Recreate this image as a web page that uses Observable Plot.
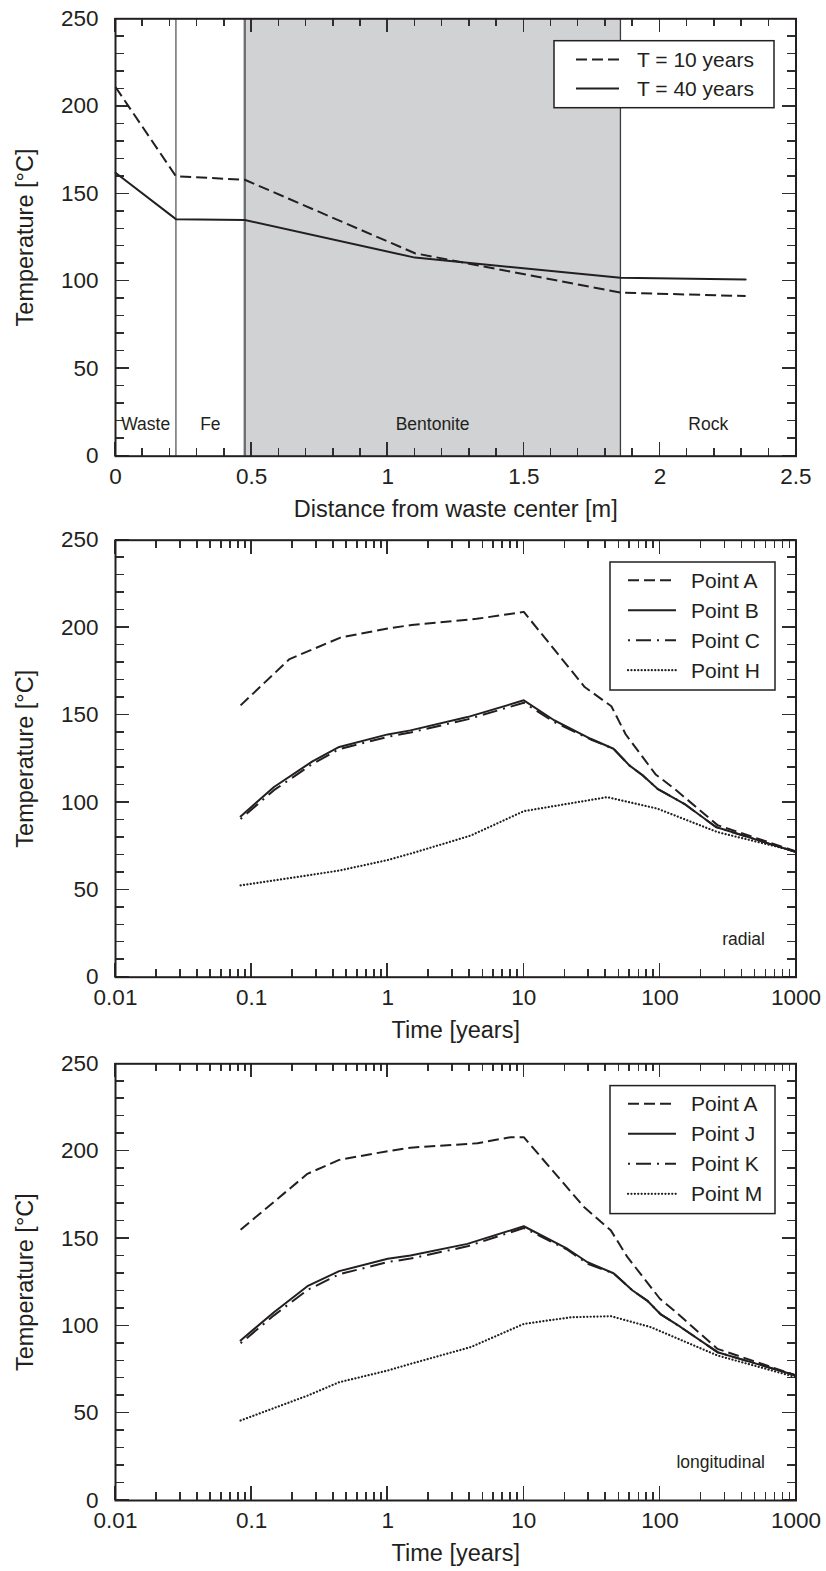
<!DOCTYPE html>
<html><head><meta charset="utf-8">
<script src="https://cdn.jsdelivr.net/npm/d3@7"></script>
<script src="https://cdn.jsdelivr.net/npm/@observablehq/plot@0.6"></script>
<style>
html,body{margin:0;padding:0;background:#fff;}
#chart svg{display:block;}
</style></head><body><div id="chart"></div>
<script>
const INK = "#231f20";
const FONT = "'Liberation Sans', Arial, Helvetica, sans-serif";

// ---------- Panel 1: temperature profile vs distance ----------
const distTicks = [0, 0.5, 1, 1.5, 2, 2.5];
const tempTicks = [0, 50, 100, 150, 200, 250];
const zoneNames = ["Waste", "Fe", "Bentonite", "Rock"];
const zoneEdges = [0, 0.222, 0.475, 1.855, 2.5];
const distance = [0, 0.222, 0.475, 1.1, 1.855, 2.315];
const temp10 = [211, 160, 158, 116, 93.5, 91.5];
const temp40 = [162, 135.5, 135, 113.5, 102, 101];
const profileLabels = ["T = 10 years", "T = 40 years"];

// ---------- Panel 2: radial points (time [years], temperature) ----------
const timeTicks = [0.01, 0.1, 1, 10, 100, 1000];
const radialA = [[0.083,155.5],[0.19,182],[0.29,188],[0.45,194.3],[1,199.5],[1.5,201.5],[4.5,205],[10,209],[28,166],[44,155],[56,139],[93,116],[127,108],[265,87],[1000,72]];
const radialB = [[0.083,92],[0.146,108.8],[0.28,123.5],[0.44,131.7],[1,138.9],[1.47,141.2],[3.85,148.8],[10,158.4],[16.7,147],[31,136.4],[45.6,130.7],[59.6,121.2],[74.6,115.5],[96,107.8],[151,99.2],[258,85.9],[1000,71.6]];
const radialC = [[0.083,90.5],[0.146,107],[0.28,122],[0.44,130.5],[1,137.5],[1.47,140],[3.85,147.5],[10,157],[16.7,146],[31,136],[45.6,130.7],[59.6,121.2],[74.6,115.5],[96,107.8],[151,99.2],[258,85.9],[1000,71.6]];
const radialH = [[0.083,52.5],[0.44,61],[1,67],[1.6,71.5],[4.07,81],[10,95],[41,103],[96,96.4],[265,83],[1000,72]];
const radialLabels = ["Point A", "Point B", "Point C", "Point H"];

// ---------- Panel 3: longitudinal points ----------
const longA = [[0.083,155],[0.257,187],[0.44,195],[1,200],[1.47,202],[4.57,204.5],[8,208],[10,208],[27.7,168],[43.7,154.5],[57.8,139.3],[100,115.5],[127,108.8],[265,86.8],[1000,71.6]];
const longJ = [[0.083,91.6],[0.146,107.8],[0.257,122.7],[0.44,131.3],[1,138.4],[1.47,140.2],[3.85,146.9],[10,157],[21,144],[29.4,136.4],[45.6,130.1],[63,120.2],[81.6,114.1],[101.6,106.5],[142.6,99.2],[265,84.9],[1000,71.6]];
const longK = [[0.083,90],[0.146,106],[0.257,120.5],[0.44,129.5],[1,136.5],[1.47,138.5],[3.85,145.5],[10,156],[21,143.5],[29.4,135.5],[45.6,130.1],[63,120.2],[81.6,114.1],[101.6,106.5],[142.6,99.2],[265,84.9],[1000,71.6]];
const longM = [[0.083,45.8],[0.257,60],[0.44,67.7],[1,74.4],[1.47,78.2],[4.07,87.8],[10,101.1],[22.2,104.9],[43.7,105.5],[86,99.2],[265,83],[1000,70.6]];
const longLabels = ["Point A", "Point J", "Point K", "Point M"];

// ---------- styles ----------
const STY = {
  solid:   {strokeWidth: 2},
  dashed:  {strokeWidth: 2, strokeDasharray: "11,5", strokeLinecap: "butt"},
  dashdot: {strokeWidth: 2, strokeDasharray: "2,6,15,6", strokeLinecap: "butt"},
  dotted:  {strokeWidth: 2.2, strokeDasharray: "0.1,3.3", strokeLinecap: "round"}
};

function seriesLine(pairs, sty) {
  return Plot.line(pairs, {x: d => d[0], y: d => d[1], stroke: INK, strokeLinejoin: "round", ...sty});
}

// inward ticks on all four sides, placed through the plot's own x/y scales
function inwardTicks(xMajor, xMinor, yMajor, yMinor) {
  return (index, scales, values, dims) => {
    const x = scales.x, y = scales.y;
    const L = dims.marginLeft, R = dims.width - dims.marginRight;
    const T = dims.marginTop, B = dims.height - dims.marginBottom;
    const segs = [];
    const xt = (list, len) => list.forEach(v => { const p = x(v); segs.push([p, B, p, B - len], [p, T, p, T + len]); });
    const yt = (list, len) => list.forEach(v => { const p = y(v); segs.push([L, p, L + len, p], [R, p, R - len, p]); });
    xt(xMinor, 8); xt(xMajor, 14); yt(yMinor, 9); yt(yMajor, 14);
    const g = d3.create("svg:g");
    g.selectAll("line").data(segs).join("line")
      .attr("x1", d => d[0]).attr("y1", d => d[1]).attr("x2", d => d[2]).attr("y2", d => d[3])
      .attr("stroke", "#2e2e30").attr("stroke-width", 1.5).attr("shape-rendering", "crispEdges");
    return g.node();
  };
}

function axisLabels(xMajor, yMajor) {
  const lab = {tickSize: 0, tickFormat: d => String(d), fontSize: 22.5, fill: INK, stroke: "none", label: null};
  return [
    Plot.axisX(xMajor, {anchor: "bottom", tickPadding: 12, ...lab}),
    Plot.axisY(yMajor, {anchor: "left", tickPadding: 17, ...lab})
  ];
}

function titles(xTitle, yTitle) {
  return [
    Plot.text([xTitle], {text: d => d, frameAnchor: "bottom", dy: 53, lineAnchor: "middle", fontSize: 23.5, fill: INK}),
    Plot.text([yTitle], {text: d => d, frameAnchor: "left", dx: -90, rotate: -90, lineAnchor: "middle", textAnchor: "middle", fontSize: 23.5, fill: INK})
  ];
}

// legend drawn inside the frame, positioned relative to the frame's top-right corner
function legendBox(labels, styles, L) {
  return (index, scales, values, dims) => {
    const right = dims.width - dims.marginRight, top = dims.marginTop;
    const g = d3.create("svg:g").attr("font-family", FONT).attr("text-anchor", "start");
    g.append("rect")
      .attr("x", right - L.left).attr("y", top + L.top)
      .attr("width", L.left - L.right).attr("height", L.bottom - L.top)
      .attr("fill", "white").attr("stroke", INK).attr("stroke-width", 1.5);
    labels.forEach((lab, i) => {
      const y = top + L.rows[i];
      const s = styles[i];
      g.append("line")
        .attr("x1", right - L.s1).attr("x2", right - L.s2).attr("y1", y).attr("y2", y)
        .attr("stroke", INK).attr("stroke-width", s.strokeWidth || 2)
        .attr("stroke-dasharray", s.strokeDasharray || null)
        .attr("stroke-linecap", s.strokeLinecap || "butt");
      g.append("text").attr("x", right - L.tx).attr("y", y).attr("dy", "0.35em")
        .attr("text-anchor", "start")
        .attr("font-size", 21).attr("fill", INK).text(lab);
    });
    return g.node();
  };
}

function range(a, b, step) { const out = []; for (let v = a; v <= b + 1e-9; v += step) out.push(+v.toFixed(6)); return out; }
const yMinor = range(0, 250, 10).filter(v => v % 50 !== 0);
const distMinor = range(0, 2.5, 0.1).filter(v => Math.abs(v * 2 - Math.round(v * 2)) > 1e-6);
const logMinor = [];
for (const d of timeTicks.slice(0, -1)) for (let k = 2; k <= 9; k++) logMinor.push(+(d * k).toPrecision(6));

const common = {
  width: 826,
  marginLeft: 115,
  marginRight: 30.5,
  style: {fontFamily: FONT, color: INK, background: "white"}
};

const root = document.getElementById("chart");

// Panel 1
const zones = zoneNames.map((n, i) => ({name: n, x1: zoneEdges[i], x2: zoneEdges[i + 1]}));
const p1 = Plot.plot({
  ...common,
  height: 522, marginTop: 18.3, marginBottom: 66.3,
  x: {domain: [0, 2.5]},
  y: {domain: [0, 250]},
  marks: [
    Plot.rect(zones.filter(z => z.name === "Bentonite"), {x1: "x1", x2: "x2", fill: "#d1d2d4"}),
    inwardTicks(distTicks, distMinor, tempTicks, yMinor),
    Plot.ruleX([zoneEdges[1]], {stroke: "#58595b", strokeWidth: 1.3}),
    Plot.ruleX([zoneEdges[2]], {stroke: "#6d6e71", strokeWidth: 2.4}),
    Plot.ruleX([zoneEdges[3]], {stroke: "#3a3a3a", strokeWidth: 1.3}),
    ...axisLabels(distTicks, tempTicks),
    seriesLine(distance.map((d, i) => [d, temp10[i]]), STY.dashed),
    seriesLine(distance.map((d, i) => [d, temp40[i]]), STY.solid),
    Plot.text(zones, {x: d => (d.x1 + d.x2) / 2, text: "name", frameAnchor: "bottom", dy: -26, fontSize: 17.5, fill: INK}),
    ...titles("Distance from waste center [m]", "Temperature [°C]"),
    legendBox(profileLabels, [STY.dashed, STY.solid], {left: 241.5, right: 21.5, top: 22.4, bottom: 89.4, rows: [41.2, 70.2], s1: 219.5, s2: 176.5, tx: 158.5}),
    Plot.frame({stroke: INK, strokeWidth: 2})
  ]
});
root.appendChild(p1);

function timePanel(series, labels, corner, h, mt, mb) {
  const styles = [STY.dashed, STY.solid, STY.dashdot, STY.dotted];
  return Plot.plot({
    ...common,
    height: h, marginTop: mt, marginBottom: mb,
    x: {type: "log", domain: [0.01, 1000]},
    y: {domain: [0, 250]},
    marks: [
      inwardTicks(timeTicks, logMinor, tempTicks, yMinor),
      ...axisLabels(timeTicks, tempTicks),
      ...series.map((s, i) => seriesLine(s, styles[i])).reverse(),
      Plot.text([corner], {text: d => d, frameAnchor: "bottom-right", dx: -31, dy: -38, textAnchor: "end", lineAnchor: "middle", fontSize: 17.5, fill: INK}),
      ...titles("Time [years]", "Temperature [°C]"),
      legendBox(labels, styles, {left: 185.5, right: 20.5, top: 22.3, bottom: 150.3, rows: [40.5, 70.5, 100.5, 130.5], s1: 167.5, s2: 119.5, tx: 104.5}),
      Plot.frame({stroke: INK, strokeWidth: 2})
    ]
  });
}

root.appendChild(timePanel([radialA, radialB, radialC, radialH], radialLabels, "radial", 523, 17.7, 68.3));
root.appendChild(timePanel([longA, longJ, longK, longM], longLabels, "longitudinal", 526, 18.3, 71));
</script></body></html>
